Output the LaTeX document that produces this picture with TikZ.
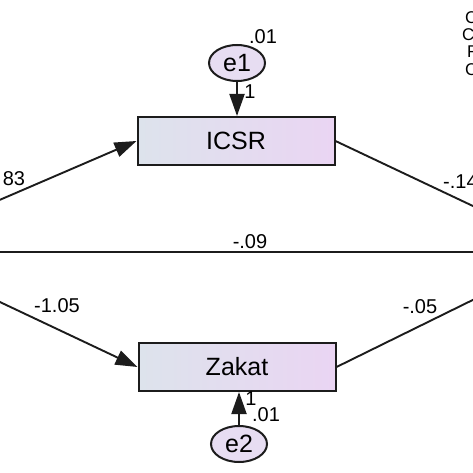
\documentclass[tikz,border=0pt]{standalone}
\usepackage{fontspec}
\setmainfont{Liberation Sans}
\usetikzlibrary{positioning,arrows.meta,shapes.geometric}
\definecolor{semdark}{HTML}{1C1C1C}
\definecolor{boxleft}{HTML}{DDE3EC}
\definecolor{boxright}{HTML}{EAD5F3}
\definecolor{errfill}{HTML}{E7DDF2}

\begin{document}
\begin{tikzpicture}[x=1pt,y=-1pt,
  font=\fontsize{20}{20}\selectfont,
  varBox/.style={draw=semdark,line width=2pt,left color=boxleft,right color=boxright,
                 minimum width=197pt,minimum height=48pt,inner sep=0pt,
                 font=\fontsize{25}{25}\selectfont},
  errNode/.style={ellipse,draw=semdark,line width=2pt,fill=errfill,
                  minimum width=56pt,minimum height=36pt,inner sep=0pt,
                  font=\fontsize{25}{25}\selectfont},
  arr/.style={-{Triangle[length=22pt,width=15pt]},draw=semdark,line width=1.9pt},
  ln/.style={draw=semdark,line width=1.9pt},
  lbl/.style={inner sep=0pt},
  fitTxt/.style={inner sep=0pt,anchor=west,font=\fontsize{17}{17}\selectfont},
]
\useasboundingbox (0,0) rectangle (473,473);
\clip (0,0) rectangle (473,473);

% observed variables and their error terms
\node[varBox] (icsr) at (236,141) {ICSR};
\node[varBox] (zakat) at (237,367) {Zakat};
\node[errNode,above=34pt of icsr,xshift=1pt] (e1) {e1};
\node[errNode,below=33pt of zakat,xshift=2pt] (e2) {e2};

% ends of the paths that leave the picture
\coordinate (lftTop) at (-20,208.4);
\coordinate (lftMid) at (-10,252);
\coordinate (lftBot) at (-20,292.6);
\coordinate (rgtTop) at (493,215.5);
\coordinate (rgtMid) at (483,252);
\coordinate (rgtBot) at (493,290);

% paths
\draw[arr] (lftTop) -- (icsr.west);
\draw[arr] (lftBot) -- (zakat.west);
\draw[ln] (lftMid) -- (rgtMid);
\draw[ln] (icsr.east) -- (rgtTop);
\draw[ln] (zakat.east) -- (rgtBot);
\draw[arr] (e1.south) -- (e1.south |- icsr.north);
\draw[arr] (e2.north) -- (e2.north |- zakat.south);

% estimates
\node[lbl] (wIcsr) at (14,179) {83};
\node[lbl,anchor=west] (wPerf) at (443,182) {-.14};
\node[lbl] (wDirect) at (250,242) {-.09};
\node[lbl] (wZakat) at (57,306) {-1.05};
\node[lbl] (wZkPerf) at (420,307) {-.05};
\node[lbl] (v1) at (263,37) {.01};
\node[lbl] (one1) at (250,92) {1};
\node[lbl] (one2) at (251,399) {1};
\node[lbl] (v2) at (266,415) {.01};

% fit indices, cut off at the edge
\node[fitTxt] (fitA) at (465,18) {C};
\node[fitTxt] (fitB) at (462,35) {C};
\node[fitTxt] (fitC) at (467,52) {F};
\node[fitTxt] (fitD) at (465,70) {C};
\end{tikzpicture}
\end{document}
